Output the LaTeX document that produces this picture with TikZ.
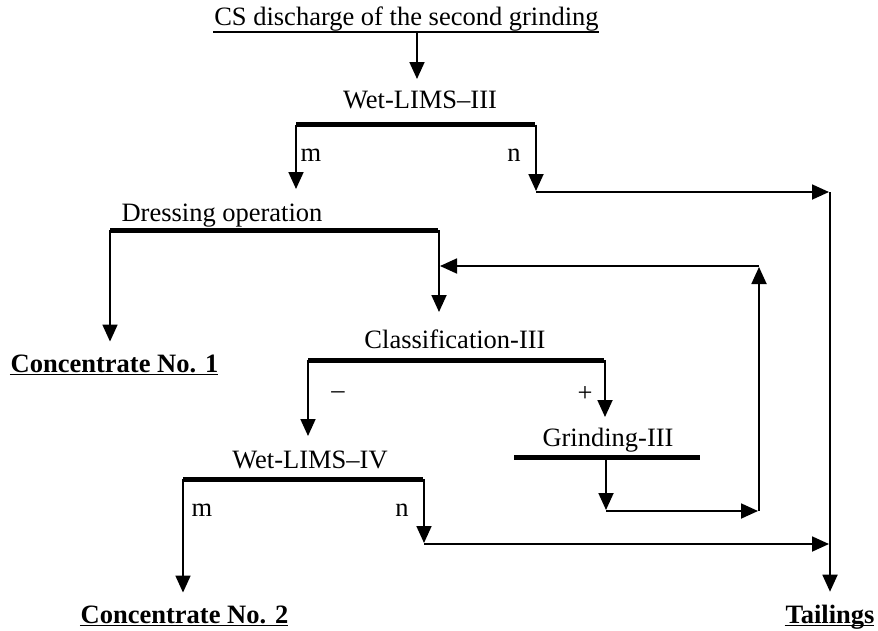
\documentclass[tikz,border=0pt]{standalone}
\usepackage{fontspec}
\setmainfont{Liberation Serif}
\usetikzlibrary{arrows.meta}

\begin{document}
\begin{tikzpicture}[
            x = 1pt, y = -1pt, % pixel grid, y grows downwards
            > = {Triangle[width=15pt, length=17pt]}, % arrow head style
            shorten > = 1pt, % don't touch arrow head to line
            line width = 1.8pt % line style
        ]

        \tikzstyle{every node}=[
            inner sep = 0pt,
            anchor = base,
            font = \fontsize{26.5}{30}\selectfont
        ]
        \tikzstyle{product}=[font = \fontsize{26.5}{30}\selectfont\bfseries]
        \tikzstyle{bar}=[line width = 5pt]
        \tikzstyle{uline}=[line width = 1.6pt]
        \tikzstyle{toproduct}=[->, shorten > = 12pt]

        \useasboundingbox (0,0) rectangle (878,630);

        % feed
        \node (feed) at (406.5,25) {CS discharge of the second grinding};
        \draw[uline] ([yshift=-7pt]feed.base west) -- ([yshift=-7pt]feed.base east);

        % Wet-LIMS-III
        \node (L3) at (420,108) {Wet-LIMS--III};
        \coordinate (L3in) at (417,80);
        \coordinate (L3w) at (296,124.5);
        \coordinate (L3e) at (536,124.5);
        \coordinate (L3m) at (296,190);
        \coordinate (L3n) at (536,192);
        \node (m1) at (311,161) {m};
        \node (n1) at (514,161) {n};

        \draw[->] (feed.south -| L3in) -- (L3in);
        \draw[bar] (L3w) -- (L3e);
        \draw[->] (L3w) -- (L3m);
        \draw[->] (L3e) -- (L3n);

        % tailings line
        \coordinate (T1) at (830,192);
        \coordinate (T2) at (830,544);
        \draw[->] (L3n) -- (T1);

        % dressing operation
        \node (dress) at (222,221) {Dressing operation};
        \coordinate (Dw) at (110,230);
        \coordinate (De) at (439,230);
        \coordinate (Din) at (439,313);
        \node[product] (c1) at (114.5,372) {Concentrate No. 1};

        \draw[bar] (Dw) -- (De);
        \draw[toproduct] (Dw) -- (Dw |- c1.north);
        \draw[->] (De) -- (Din);

        % classification
        \node (cls) at (455,348) {Classification-III};
        \coordinate (Cw) at (308,360);
        \coordinate (Ce) at (605,360);
        \coordinate (Cm) at (308,437);
        \coordinate (Cp) at (605,418);
        \node (minus) at (338,398) {--};
        \node (plus) at (585,401) {+};

        \draw[bar] (Cw) -- (Ce);
        \draw[->] (Cw) -- (Cm);
        \draw[->] (Ce) -- (Cp);

        % grinding and recycle
        \node (grd) at (608,446) {Grinding-III};
        \coordinate (Gw) at (514,457);
        \coordinate (Ge) at (701,457);
        \coordinate (Gs) at (606,457);
        \coordinate (Gout) at (606,511);
        \coordinate (R1) at (759,266);
        \coordinate (R2) at (759,511);

        \draw[bar] (Gw) -- (Ge);
        \draw[->] (Gs) -- (Gout);
        \draw[->] (Gout) -- (R2);
        \draw[->] (R2) -- (R1);
        \draw[->] (R1) -- (R1 -| De);

        % Wet-LIMS-IV
        \node (L4) at (310,468) {Wet-LIMS--IV};
        \coordinate (L4w) at (183,479);
        \coordinate (L4e) at (424,479);
        \coordinate (L4n) at (424,544);
        \node (m2) at (202,516) {m};
        \node (n2) at (402,516) {n};
        \node[product] (c2) at (184.5,623) {Concentrate No. 2};
        \node[product] (tail) at (830,623) {Tailings};

        \draw[bar] (L4w) -- (L4e);
        \draw[toproduct] (L4w) -- (L4w |- c2.north);
        \draw[->] (L4e) -- (L4n);
        \draw[->] (L4n) -- (T2);
        \draw[toproduct] (T1) -- (T1 |- tail.north);

        % underlined products
        \foreach \p in {c1, c2, tail}
            \draw[uline] ([yshift=-2.5pt]\p.base west) -- ([yshift=-2.5pt]\p.base east);

\end{tikzpicture}
\end{document}
